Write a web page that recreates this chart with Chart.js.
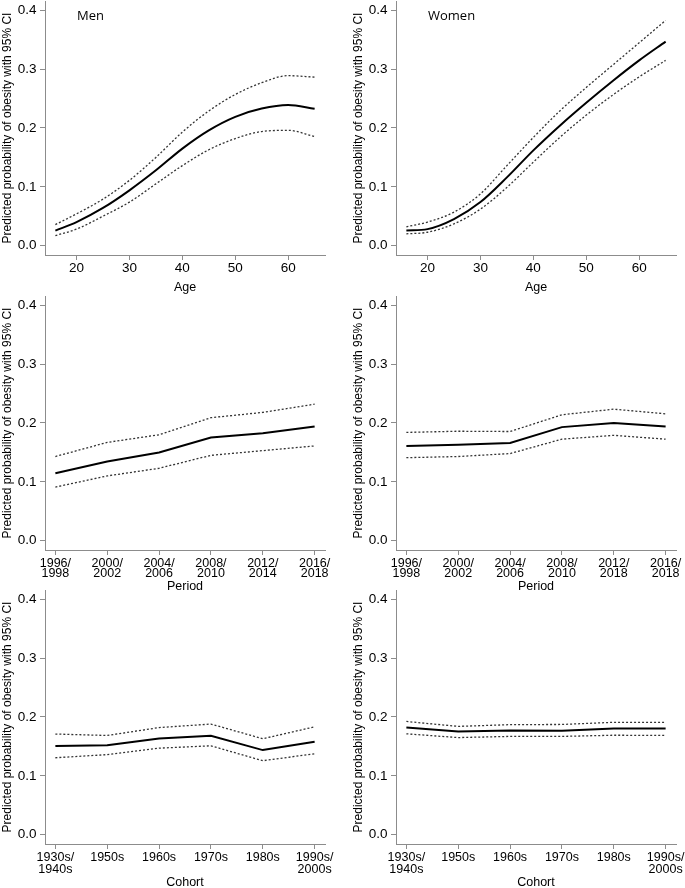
<!DOCTYPE html>
<html>
<head>
<meta charset="utf-8">
<script src="https://cdn.jsdelivr.net/npm/chart.js@4"></script>
<style>
  html, body { margin: 0; padding: 0; background: #fff; }
  body { width: 685px; height: 888px; overflow: hidden; position: relative; }
  canvas { position: absolute; }
</style>
</head>
<body>
<script>
const ages = [16, 20, 25, 30, 35, 40, 45, 50, 55, 60, 65];
const ageTicks = [20, 30, 40, 50, 60];

const menAgeFit   = [0.0255, 0.040, 0.064, 0.094, 0.128, 0.165, 0.196, 0.219, 0.233, 0.239, 0.2326];
const menAgeUpper = [0.0357, 0.054, 0.079, 0.111, 0.150, 0.193, 0.229, 0.257, 0.277, 0.289, 0.2865];
const menAgeLower = [0.017, 0.028, 0.050, 0.074, 0.105, 0.136, 0.163, 0.182, 0.194, 0.196, 0.1855];

const womenAgeFit   = [0.0255, 0.028, 0.045, 0.074, 0.116, 0.162, 0.204, 0.243, 0.280, 0.315, 0.347];
const womenAgeUpper = [0.032, 0.040, 0.057, 0.088, 0.136, 0.184, 0.229, 0.269, 0.307, 0.345, 0.383];
const womenAgeLower = [0.020, 0.0227, 0.037, 0.062, 0.099, 0.142, 0.184, 0.222, 0.256, 0.287, 0.315];

const menPeriods   = ["1996/1998", "2000/2002", "2004/2006", "2008/2010", "2012/2014", "2016/2018"];
const womenPeriods = ["1996/1998", "2000/2002", "2004/2006", "2008/2010", "2012/2018", "2016/2018"];

const menPeriodFit   = [0.1146, 0.1345, 0.1498, 0.1753, 0.1827, 0.194];
const menPeriodUpper = [0.143, 0.167, 0.180, 0.209, 0.218, 0.232];
const menPeriodLower = [0.091, 0.110, 0.123, 0.145, 0.153, 0.161];

const womenPeriodFit   = [0.161, 0.163, 0.166, 0.193, 0.200, 0.194];
const womenPeriodUpper = [0.184, 0.186, 0.1855, 0.214, 0.2235, 0.2156];
const womenPeriodLower = [0.141, 0.143, 0.148, 0.1725, 0.179, 0.1725];

const cohorts = ["1930s/1940s", "1950s", "1960s", "1970s", "1980s", "1990s/2000s"];

const menCohortFit   = [0.1505, 0.152, 0.1635, 0.168, 0.1437, 0.158];
const menCohortUpper = [0.171, 0.1686, 0.182, 0.188, 0.163, 0.1833];
const menCohortLower = [0.1307, 0.136, 0.147, 0.151, 0.1256, 0.1375];

const womenCohortFit   = [0.182, 0.1754, 0.177, 0.1765, 0.1805, 0.1805];
const womenCohortUpper = [0.1924, 0.184, 0.187, 0.1873, 0.191, 0.191];
const womenCohortLower = [0.1714, 0.165, 0.167, 0.167, 0.169, 0.1686];

const yTicks = [0, 0.1, 0.2, 0.3, 0.4];
const yTitle = "Predicted probability of obesity with 95% CI";

Chart.defaults.font.family = "'Liberation Sans', Arial, sans-serif";
Chart.defaults.color = "#000";

const axisGrey = "#8c8c8c";

// "Men" / "Women" inside the first row
const panelLabel = {
  id: "panelLabel",
  afterDraw(chart, args, opts) {
    if (!opts.text) return;
    const ctx = chart.ctx;
    ctx.save();
    ctx.font = "13px 'Open Sans', sans-serif";
    ctx.fillStyle = "#000";
    ctx.textBaseline = "middle";
    ctx.fillText(opts.text, chart.chartArea.left + 32, chart.chartArea.top + 15);
    ctx.restore();
  }
};

function splitLabel(s) {
  const i = s.indexOf("/");
  return i < 0 ? s : [s.slice(0, i + 1), s.slice(i + 1)];
}

function makePanel(p) {
  const canvas = document.createElement("canvas");
  canvas.width = p.w;
  canvas.height = p.h;
  canvas.style.left = p.left + "px";
  canvas.style.top = p.top + "px";
  document.body.appendChild(canvas);

  const pts = (vals) => vals.map((v, i) => ({ x: p.xs[i], y: v }));
  const smooth = p.smooth ? "monotone" : "default";

  new Chart(canvas, {
    type: "line",
    data: {
      datasets: [
        { data: pts(p.upper), borderColor: "#333", borderWidth: 1.3, borderDash: [2, 2], pointRadius: 0, cubicInterpolationMode: smooth },
        { data: pts(p.lower), borderColor: "#333", borderWidth: 1.3, borderDash: [2, 2], pointRadius: 0, cubicInterpolationMode: smooth },
        { data: pts(p.fit), borderColor: "#000", borderWidth: 2, pointRadius: 0, cubicInterpolationMode: smooth }
      ]
    },
    options: {
      responsive: false,
      animation: false,
      devicePixelRatio: 1,
      layout: { autoPadding: false, padding: { top: 1, left: 0, right: p.padRight, bottom: 0 } },
      plugins: {
        legend: { display: false },
        tooltip: { enabled: false },
        panelLabel: { text: p.label }
      },
      scales: {
        x: {
          type: "linear",
          min: p.xmin,
          max: p.xmax,
          afterBuildTicks: (s) => { s.ticks = p.xTicks.map((v) => ({ value: v })); },
          afterFit: (s) => { s.height = p.xh; s.paddingLeft = 0; s.paddingRight = 0; },
          ticks: {
            callback: p.xLabel,
            autoSkip: false,
            maxRotation: 0,
            padding: p.tickPad,
            color: "#000",
            font: p.xFont
          },
          grid: { drawOnChartArea: false, drawTicks: true, tickLength: 5, color: axisGrey, lineWidth: 1 },
          border: { display: true, color: axisGrey, width: 1 },
          title: { display: true, text: p.xTitle, color: "#000", font: { size: 12.5 }, padding: { top: 0, bottom: p.titlePad } }
        },
        y: {
          type: "linear",
          min: -0.016,
          max: 0.416,
          afterBuildTicks: (s) => { s.ticks = yTicks.map((v) => ({ value: v })); },
          afterFit: (s) => { s.width = 45; s.paddingTop = 0; s.paddingBottom = 0; },
          ticks: { callback: (v) => v.toFixed(1), padding: 3.5, color: "#000", font: { size: 13.5 } },
          grid: { drawOnChartArea: false, drawTicks: true, tickLength: 5, color: axisGrey, lineWidth: 1 },
          border: { display: true, color: axisGrey, width: 1 },
          title: { display: true, text: yTitle, color: "#000", font: { size: 12 }, padding: { top: 0, bottom: 0 } }
        }
      }
    },
    plugins: [panelLabel]
  });
}

const idx = [1, 2, 3, 4, 5, 6];
const cols = [{ left: 0, w: 342, padRight: 17 }, { left: 351, w: 334, padRight: 9 }];

const ageRow = { top: 0, h: 297, xh: 42, tickPad: 0.3, titlePad: 1.5, xmin: 14.04, xmax: 66.96,
  xs: ages, xTicks: ageTicks, xTitle: "Age", smooth: true, xFont: { size: 13.5 }, xLabel: (v) => String(v) };
const periodRow = { top: 295, h: 300, xh: 45, tickPad: 3.3, titlePad: 0.8, xmin: 0.8, xmax: 6.2,
  xs: idx, xTicks: idx, xTitle: "Period", smooth: false, xFont: { size: 12.5, lineHeight: 0.8 } };
const cohortRow = { top: 589, h: 302, xh: 47, tickPad: 2.95, titlePad: 0.8, xmin: 0.8, xmax: 6.2,
  xs: idx, xTicks: idx, xTitle: "Cohort", smooth: false, xFont: { size: 12.5, lineHeight: 0.92 } };

makePanel({ ...ageRow, ...cols[0], label: "Men", fit: menAgeFit, upper: menAgeUpper, lower: menAgeLower });
makePanel({ ...ageRow, ...cols[1], label: "Women", fit: womenAgeFit, upper: womenAgeUpper, lower: womenAgeLower });
makePanel({ ...periodRow, ...cols[0], fit: menPeriodFit, upper: menPeriodUpper, lower: menPeriodLower,
  xLabel: (v) => splitLabel(menPeriods[v - 1]) });
makePanel({ ...periodRow, ...cols[1], fit: womenPeriodFit, upper: womenPeriodUpper, lower: womenPeriodLower,
  xLabel: (v) => splitLabel(womenPeriods[v - 1]) });
makePanel({ ...cohortRow, ...cols[0], fit: menCohortFit, upper: menCohortUpper, lower: menCohortLower,
  xLabel: (v) => splitLabel(cohorts[v - 1]) });
makePanel({ ...cohortRow, ...cols[1], fit: womenCohortFit, upper: womenCohortUpper, lower: womenCohortLower,
  xLabel: (v) => splitLabel(cohorts[v - 1]) });
</script>
</body>
</html>
